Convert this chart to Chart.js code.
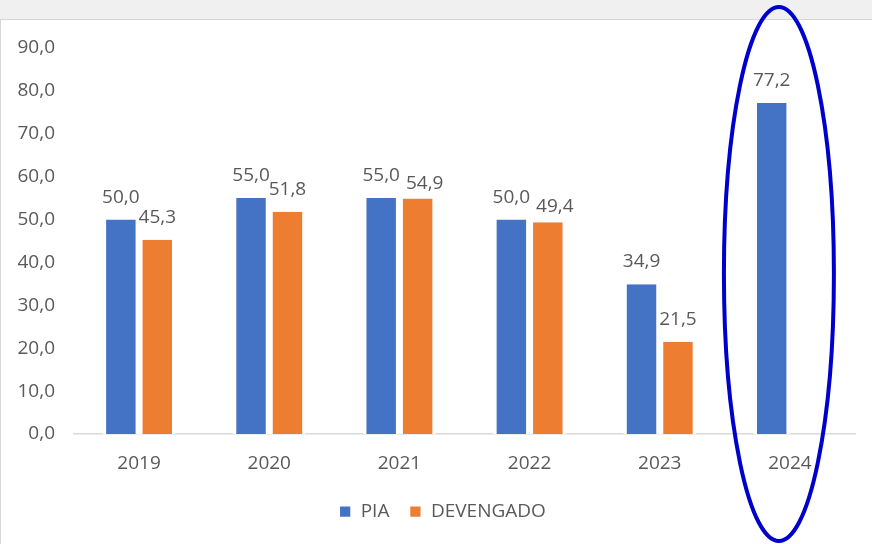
<!DOCTYPE html>
<html><head><meta charset="utf-8">
<script src="https://cdn.jsdelivr.net/npm/chart.js@4/dist/chart.umd.min.js"></script>
<style>html,body{margin:0;padding:0;background:#fff}#c{display:block}</style>
</head><body>
<canvas id="c" width="872" height="544"></canvas>
<script>
const categories = ['2019','2020','2021','2022','2023','2024'];
const piaValues = [50.0, 55.0, 55.0, 50.0, 34.9, 77.2];
const devengadoValues = [45.3, 51.8, 54.9, 49.4, 21.5, null];
const seriesNames = ['PIA', 'DEVENGADO'];
const highlightIndex = 5;

const fmt = v => v.toFixed(1).replace('.', ',');
const FONT = 'Open Sans';
const GRAY = '#595959';

const bgPlugin = {
  id: 'bg',
  beforeDraw(chart) {
    const ctx = chart.ctx;
    ctx.save();
    ctx.fillStyle = '#f0f0f0';
    ctx.fillRect(0, 0, chart.width, chart.height);
    ctx.fillStyle = '#ffffff';
    ctx.fillRect(1, 20, chart.width - 1, chart.height - 20);
    ctx.fillStyle = '#d6d6d6';
    ctx.fillRect(0, 19, chart.width, 1);
    ctx.fillRect(0, 19, 1, chart.height - 19);
    ctx.restore();
  }
};

const legendShiftPlugin = {
  id: 'legendShift',
  afterLayout(chart) {
    if (chart.legend) { chart.legend.left += 15; chart.legend.right += 15; }
  }
};

const labelPlugin = {
  id: 'vlabels',
  afterDatasetsDraw(chart) {
    const ctx = chart.ctx;
    const capH = 12, margin = 4;
    ctx.save();
    ctx.font = '19px "' + FONT + '"';
    ctx.fillStyle = GRAY;
    ctx.textAlign = 'center';
    ctx.textBaseline = 'alphabetic';
    const placed = {};
    chart.data.datasets.forEach((ds, di) => {
      const meta = chart.getDatasetMeta(di);
      meta.data.forEach((bar, i) => {
        const v = ds.data[i];
        if (v === null || v === undefined) return;
        const txt = fmt(v);
        const w = ctx.measureText(txt).width;
        let x = bar.x, y = bar.y - 17;
        const prev = placed[i];
        if (prev) {
          const l = x - w / 2, r = x + w / 2, t = y - capH;
          if (l < prev.r + margin && r > prev.l && t < prev.b && y > prev.b - capH) {
            x = prev.r + 6 + w / 2;
            y = bar.y - 10;
          }
        }
        ctx.fillText(txt, x, y);
        placed[i] = { l: x - w / 2, r: x + w / 2, b: y };
      });
    });
    ctx.restore();
  }
};

const ellipsePlugin = {
  id: 'ellipse',
  afterDraw(chart) {
    const ctx = chart.ctx;
    const cx = chart.scales.x.getPixelForValue(highlightIndex) - 11;
    ctx.save();
    ctx.strokeStyle = '#0000cc';
    ctx.lineWidth = 4;
    ctx.beginPath();
    ctx.ellipse(cx, 274, 55, 267, 0, 0, Math.PI * 2);
    ctx.stroke();
    ctx.restore();
  }
};

new Chart(document.getElementById('c'), {
  type: 'bar',
  data: {
    labels: categories,
    datasets: [
      { label: seriesNames[0], data: piaValues, backgroundColor: '#4472c4',
        borderColor: '#ffffff', borderWidth: {left: 3.5, right: 3.5, top: 0, bottom: 0}, borderSkipped: false },
      { label: seriesNames[1], data: devengadoValues, backgroundColor: '#ed7d31',
        borderColor: '#ffffff', borderWidth: {left: 3.5, right: 3.5, top: 0, bottom: 0}, borderSkipped: false }
    ]
  },
  options: {
    responsive: false,
    animation: false,
    datasets: { bar: { categoryPercentage: 0.56, barPercentage: 1.0 } },
    layout: { padding: { top: 48, right: 17, left: 0, bottom: 13 } },
    scales: {
      x: {
        grid: { display: false, drawTicks: false },
        border: { display: true, color: '#d9d9d9', width: 1.5 },
        ticks: { color: GRAY, font: { family: FONT, size: 19 }, padding: 18 },
        afterFit: s => { s.height = 48; }
      },
      y: {
        min: 0, max: 90,
        grid: { display: false, drawTicks: false },
        border: { display: false },
        ticks: { stepSize: 10, color: GRAY, font: { family: FONT, size: 19 }, padding: 19,
                 callback: v => fmt(v) },
        afterFit: s => { s.width = 74; }
      }
    },
    plugins: {
      legend: {
        position: 'bottom',
        labels: { color: GRAY, font: { family: FONT, size: 19 }, boxWidth: 12, boxHeight: 12, padding: 20 }
      },
      tooltip: { enabled: false }
    }
  },
  plugins: [bgPlugin, legendShiftPlugin, labelPlugin, ellipsePlugin]
});
</script>
</body></html>
